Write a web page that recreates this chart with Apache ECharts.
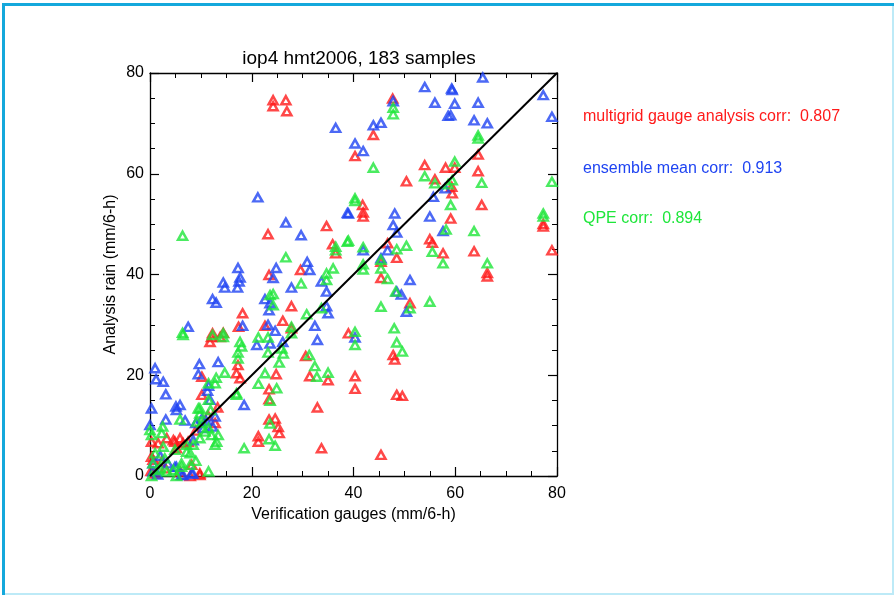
<!DOCTYPE html>
<html>
<head>
<meta charset="utf-8">
<script src="https://cdn.jsdelivr.net/npm/echarts@6/dist/echarts.min.js"></script>
<style>
  html, body { margin: 0; padding: 0; background: #fff; }
  #chart { width: 894px; height: 595px; }
</style>
</head>
<body>
<div id="chart"></div>
<script>
// Verification gauges (x) vs analysis rain (y), mm per 6 h
var titleText = 'iop4 hmt2006, 183 samples';
var xTicks = [0, 20, 40, 60, 80];
var yTicks = [0, 20, 40, 60, 80];

var multigrid = [
  [24.2,74.6],[24.2,73.4],[26.7,74.6],[26.9,72.4],[47.7,74.9],[43.9,67.7],[40.3,63.5],[54.0,61.7],
  [58.1,61.2],[59.9,61.2],[50.4,58.5],[56.0,58.9],[64.5,63.8],[64.5,60.5],[59.4,56.1],[59.3,57.4],
  [41.8,53.8],[65.2,53.8],[41.9,51.5],[41.9,52.3],[59.1,51.1],[77.3,49.5],[77.3,50.0],[79.0,44.8],
  [46.7,46.2],[48.5,43.3],[45.4,42.5],[45.4,39.3],[55.0,47.0],[55.5,46.3],[57.6,44.2],[63.7,44.6],
  [66.3,40.3],[66.3,39.6],[51.1,34.3],[39.0,28.3],[47.8,24.0],[48.1,23.1],[40.3,19.8],[40.3,17.3],
  [48.5,16.1],[49.6,15.9],[45.4,4.2],[23.2,48.0],[34.7,49.6],[35.9,46.0],[36.5,44.2],[29.6,40.9],
  [23.4,39.9],[27.8,33.7],[18.2,32.3],[26.1,30.8],[17.4,29.6],[22.6,29.8],[12.3,28.3],[14.4,28.4],
  [27.8,29.3],[11.8,26.6],[12.1,27.6],[13.8,27.6],[17.3,22.0],[17.0,20.4],[17.7,19.4],[24.8,20.2],
  [23.4,17.2],[23.4,15.2],[10.2,19.7],[10.2,16.1],[13.3,13.6],[23.4,11.2],[24.6,11.4],[25.2,9.7],
  [25.4,8.5],[21.3,7.9],[21.3,6.8],[30.6,23.8],[31.4,19.8],[35.0,19.0],[32.9,13.6],[33.7,5.5],
  [5.9,7.5],[4.6,7.1],[6.5,6.5],[3.3,7.5],[8.2,2.2],[9.8,0.5],[0.3,3.8],[2.3,2.8],
  [5.2,5.5],[7.5,6.8],[12.8,10.5],[1.6,6.5],[4.9,6.8],[0.3,6.8],[7.9,0.0],[9.8,0.2],
  [0.6,3.2],[11.4,12.0],[9.0,9.0],[3.0,1.5],[1.0,0.5],[6.0,0.8],[0.2,1.0]
];

var ensembleMean = [
  [65.4,79.1],[54.0,77.2],[59.3,76.9],[59.4,76.6],[56.0,74.1],[59.9,73.9],[64.5,74.1],[47.8,74.4],
  [58.6,71.5],[59.1,71.6],[63.7,70.6],[66.3,70.0],[43.9,69.6],[45.4,70.1],[40.3,66.0],[41.9,64.5],
  [77.3,75.6],[79.0,71.3],[55.7,55.4],[58.0,57.1],[36.5,69.1],[21.2,55.3],[38.8,52.2],[26.7,50.3],
  [29.7,47.8],[30.9,42.5],[31.4,40.9],[24.8,41.3],[24.2,39.3],[17.3,41.3],[17.7,39.4],[17.5,38.6],
  [17.2,37.4],[14.4,38.4],[14.7,37.4],[12.3,35.1],[13.0,34.4],[27.8,37.4],[33.7,38.6],[34.7,36.6],
  [22.6,35.1],[23.6,34.3],[23.4,32.9],[34.7,33.7],[35.0,32.3],[7.5,29.6],[18.2,29.8],[23.2,30.0],
  [24.6,28.8],[32.4,29.8],[39.0,52.1],[48.1,52.1],[55.0,51.5],[47.8,49.8],[48.5,48.3],[57.6,48.6],
  [41.9,44.8],[46.7,44.8],[45.4,43.2],[51.1,38.9],[48.5,36.6],[49.4,36.0],[50.4,32.6],[40.3,27.5],
  [1.0,21.4],[1.2,19.2],[2.6,18.7],[3.1,16.2],[0.3,13.4],[5.1,13.8],[5.9,14.1],[5.2,13.1],
  [6.9,11.0],[3.1,11.2],[9.7,22.2],[13.4,22.6],[9.5,20.2],[11.5,17.9],[11.3,16.9],[11.8,15.1],
  [10.2,11.4],[12.8,11.8],[12.3,9.8],[18.5,14.1],[32.9,27.0],[21.0,26.0],[23.6,26.3],[26.1,26.6],
  [0.0,10.1],[8.5,7.1],[5.2,1.8],[6.2,0.2],[8.2,0.5],[0.6,2.5],[4.9,1.8],[6.5,0.2],
  [8.4,0.5],[0.6,0.9],[2.0,4.0],[10.5,9.5],[11.0,11.0],[1.5,0.3],[3.5,2.5],[9.0,10.5]
];

var qpe = [
  [47.8,73.1],[47.8,71.8],[64.5,67.0],[64.5,67.6],[59.9,62.4],[54.0,59.5],[56.0,58.1],[58.6,57.9],
  [59.4,58.7],[65.2,58.2],[79.0,58.4],[43.9,61.2],[40.3,55.1],[40.3,54.6],[59.1,53.8],[77.3,52.1],
  [77.3,51.5],[58.2,48.9],[63.7,48.6],[39.0,46.7],[41.9,45.4],[50.4,45.7],[48.5,45.0],[55.5,44.5],
  [45.4,42.9],[41.9,42.0],[41.9,41.0],[45.4,41.2],[46.7,39.1],[57.6,42.2],[66.3,42.2],[48.3,36.6],
  [51.1,33.3],[55.0,34.6],[45.4,33.6],[48.0,29.3],[40.3,28.6],[40.3,26.0],[48.5,26.5],[49.6,24.7],
  [6.4,47.7],[26.7,43.4],[36.5,45.5],[36.5,44.8],[38.8,46.5],[34.7,40.2],[36.0,41.2],[34.7,38.9],
  [29.7,38.2],[23.6,35.9],[24.2,36.1],[24.2,33.9],[33.7,33.3],[30.8,32.1],[27.8,29.6],[27.8,28.3],
  [6.4,28.4],[12.3,28.0],[14.4,28.3],[21.3,27.5],[23.2,27.5],[6.5,28.0],[14.4,27.6],[17.7,26.6],
  [18.0,25.7],[17.3,24.5],[17.3,23.3],[23.2,24.5],[25.9,25.3],[26.2,24.3],[25.4,22.5],[14.7,20.5],
  [22.6,20.4],[21.3,18.3],[24.9,17.4],[23.6,14.9],[13.0,19.5],[12.8,18.4],[11.5,18.4],[11.9,13.1],
  [9.8,13.4],[9.8,12.4],[9.2,10.8],[11.5,9.5],[12.8,6.2],[13.4,8.1],[5.9,11.2],[17.0,16.1],
  [31.3,24.0],[32.4,21.8],[32.8,19.7],[35.0,20.5],[23.6,10.4],[23.4,7.3],[24.6,6.0],[18.5,5.5],
  [2.5,9.8],[2.3,8.5],[2.6,5.8],[7.2,6.2],[7.9,4.5],[6.2,2.5],[4.6,1.2],[1.6,1.2],
  [0.6,2.5],[0.3,0.0],[11.5,0.9],[2.0,1.5],[3.3,0.9],[5.2,0.0],[6.2,1.8],[7.9,2.2],
  [17.0,16.4],[11.5,15.1],[9.5,13.4],[0.0,9.1],[0.3,8.1],[2.9,3.5],[4.9,5.2],[7.2,4.8],
  [10.2,10.5],[10.8,8.8],[12.1,8.1],[13.1,6.8],[9.8,7.5],[8.5,6.2],[9.0,3.0],[1.0,4.5]
];

var oneToOne = [[0, 0], [80, 80]];

var corrLabels = [
  'multigrid gauge analysis corr:  0.807',
  'ensemble mean corr:  0.913',
  'QPE corr:  0.894'
];

var RED = '#ff1a1a', BLUE = '#1f44f2', GREEN = '#1ee63a';
var FONT = '"Liberation Sans", Arial, Helvetica, sans-serif';

var chart = echarts.init(document.getElementById('chart'), null, { renderer: 'canvas' });

function frameAxis(extra) {
  var base = {
    type: 'value', min: 0, max: 80, interval: 20,
    axisLine: { show: true, onZero: false, lineStyle: { color: '#000', width: 1.3 } },
    axisTick: { show: true, inside: true, length: 9, lineStyle: { color: '#000', width: 1.2 } },
    minorTick: { show: true, splitNumber: 4, length: 5, lineStyle: { color: '#000', width: 1 } },
    splitLine: { show: false },
    axisLabel: { show: false }
  };
  return Object.assign(base, extra);
}

function triSeries(name, data, color) {
  return {
    name: name, type: 'scatter', data: data,
    symbol: 'triangle', symbolSize: [9, 8],
    itemStyle: { color: 'rgba(255,255,255,0)', borderColor: color, borderWidth: 2.5 },
    emphasis: { disabled: true }, z: 3
  };
}

chart.setOption({
  animation: false,
  backgroundColor: '#fff',
  title: {
    text: titleText, left: 354, top: 44, textAlign: 'center',
    textStyle: { fontFamily: FONT, fontSize: 19, fontWeight: 'normal', color: '#000' }
  },
  grid: { left: 150, right: 337, top: 73, bottom: 119, containLabel: false },
  xAxis: [
    frameAxis({
      position: 'bottom',
      axisLabel: { show: true, margin: 10, fontFamily: FONT, fontSize: 16, color: '#000',
        formatter: function (v) { return xTicks.indexOf(v) >= 0 ? String(v) : ''; } },
      name: 'Verification gauges (mm/6-h)', nameLocation: 'middle', nameGap: 29,
      nameTextStyle: { fontFamily: FONT, fontSize: 16, color: '#000' }
    }),
    frameAxis({ position: 'top' })
  ],
  yAxis: [
    frameAxis({
      position: 'left',
      axisLabel: { show: true, margin: 6, fontFamily: FONT, fontSize: 16, color: '#000',
        formatter: function (v) { return yTicks.indexOf(v) >= 0 ? String(v) : ''; } },
      name: 'Analysis rain (mm/6-h)', nameLocation: 'middle', nameGap: 31,
      nameTextStyle: { fontFamily: FONT, fontSize: 16, color: '#000' }
    }),
    frameAxis({ position: 'right' })
  ],
  series: [
    triSeries('multigrid', multigrid, RED),
    triSeries('ensemble', ensembleMean, BLUE),
    triSeries('qpe', qpe, GREEN),
    {
      type: 'line', data: oneToOne, symbol: 'none', clip: true, z: 4,
      lineStyle: { color: '#000', width: 2 }, silent: true
    }
  ],
  graphic: [
    { type: 'text', left: 583, top: 109,
      style: { text: corrLabels[0], fill: RED, font: '16px ' + FONT } },
    { type: 'text', left: 583, top: 161,
      style: { text: corrLabels[1], fill: BLUE, font: '16px ' + FONT } },
    { type: 'text', left: 583, top: 211,
      style: { text: corrLabels[2], fill: GREEN, font: '16px ' + FONT } },
    { type: 'line', shape: { x1: 893, y1: 3, x2: 893, y2: 595 },
      style: { stroke: '#bdeaf7', lineWidth: 2 } },
    { type: 'line', shape: { x1: 2, y1: 594, x2: 894, y2: 594 },
      style: { stroke: '#bdeaf7', lineWidth: 2 } },
    { type: 'line', shape: { x1: 2, y1: 4.5, x2: 894, y2: 4.5 },
      style: { stroke: '#14a8dc', lineWidth: 3 } },
    { type: 'line', shape: { x1: 3.5, y1: 3, x2: 3.5, y2: 595 },
      style: { stroke: '#14a8dc', lineWidth: 3 } }
  ]
});
</script>
</body>
</html>
